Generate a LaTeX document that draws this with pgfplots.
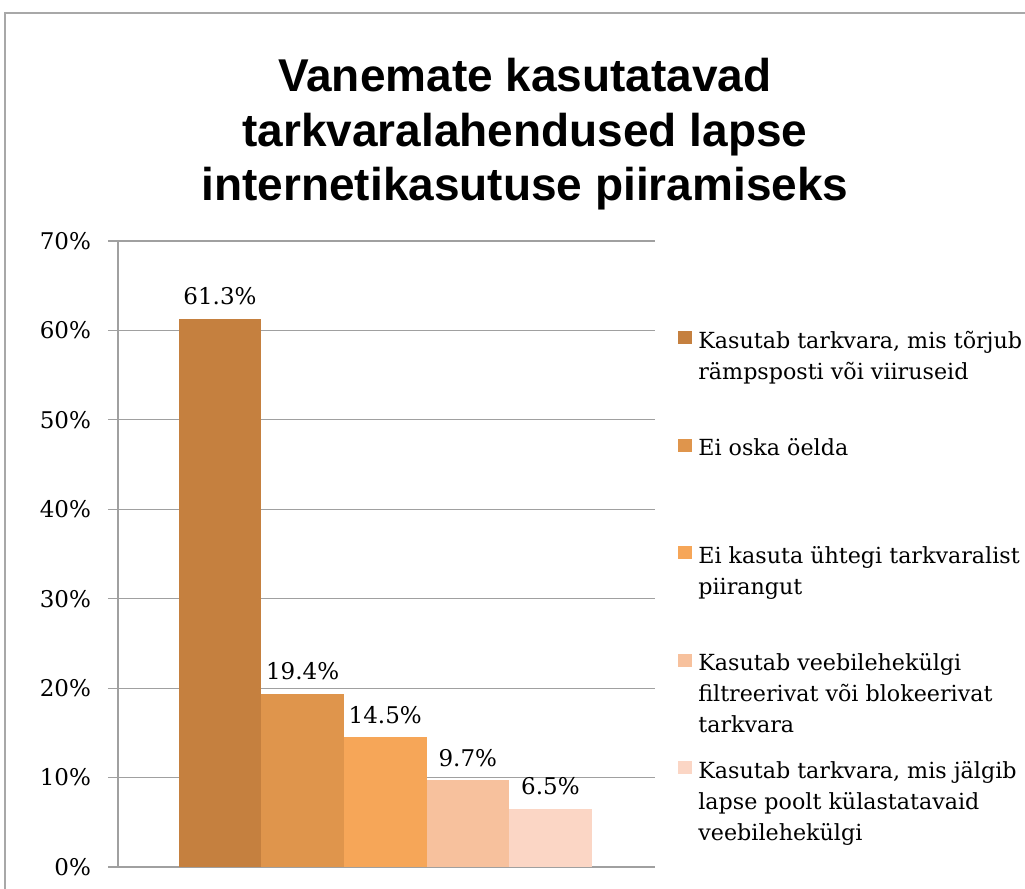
\documentclass[border=0pt]{standalone}
\usepackage{fontspec}
\setmainfont{DejaVu Serif}
\newfontfamily\titlefont{Liberation Sans}
\usepackage{pgfplots}
\pgfplotsset{compat=1.18}
\definecolor{cA}{HTML}{C5803F}
\definecolor{cB}{HTML}{DF954C}
\definecolor{cC}{HTML}{F6A658}
\definecolor{cD}{HTML}{F7C19D}
\definecolor{cE}{HTML}{FBD6C5}
\definecolor{gridgray}{HTML}{A0A0A0}
\definecolor{framegray}{HTML}{A8A8A8}
\newcommand{\lent}[1]{\parbox[t][53.75pt][t]{170pt}{\strut #1}}
\begin{document}
\begin{tikzpicture}[x=1pt,y=1pt]
\useasboundingbox (0pt,0pt) rectangle (512.5pt,444.5pt);
\draw[color=framegray, line width=1pt] (2.5pt,-5pt) -- (2.5pt,438pt) -- (520pt,438pt);
\node[anchor=base, font=\titlefont\bfseries\fontsize{23}{27}\selectfont] at (262.5pt,398.5pt) {Vanemate kasutatavad};
\node[anchor=base, font=\titlefont\bfseries\fontsize{23}{27}\selectfont] at (262.5pt,371pt) {tarkvaralahendused lapse};
\node[anchor=base, font=\titlefont\bfseries\fontsize{23}{27}\selectfont] at (262.5pt,344pt) {internetikasutuse piiramiseks};
\begin{axis}[
  at={(59pt,11pt)}, anchor=south west, scale only axis,
  width=268.5pt, height=313pt,
  xmin=-0.235, xmax=6.266, ymin=0, ymax=70,
  ytick={0,10,...,70},
  yticklabel={\pgfmathprintnumber{\tick}\%},
  /pgf/number format/assume math mode=true,
  xtick=\empty,
  axis x line*=bottom, axis y line*=left,
  ymajorgrids,
  grid style={gridgray, line width=0.6pt},
  axis line style={gridgray, line width=0.6pt},
  tick style={gridgray, line width=0.6pt},
  major tick length=5pt, tick align=outside,
  ticklabel style={font=\fontsize{11.5}{14}\selectfont},
  yticklabel style={xshift=-5pt},
  ybar, bar width=1, bar shift=0pt,
  nodes near coords={\pgfmathprintnumber[fixed,precision=1,fixed zerofill]{\pgfplotspointmeta}\%},
  every node near coord/.append style={anchor=base, yshift=7pt, font=\fontsize{11.5}{14}\selectfont, text=black},
  legend style={at={(1.0428,0.864)}, anchor=north west, draw=none, fill=none, inner sep=0pt,
    row sep=0pt, column sep=3pt, font=\fontsize{11.1}{15.5}\selectfont,
    nodes={inner sep=0pt, text depth=}, cells={anchor=base west}},
  legend image code/.code={\path[#1, draw=none] (0pt,2pt) rectangle (7pt,8.5pt);},
]
\addplot[fill=cA, draw=none] coordinates {(1,61.3)};
\addplot[fill=cB, draw=none] coordinates {(2,19.4)};
\addplot[fill=cC, draw=none] coordinates {(3,14.5)};
\addplot[fill=cD, draw=none] coordinates {(4,9.7)};
\addplot[fill=cE, draw=none] coordinates {(5,6.5)};
\legend{\lent{Kasutab tarkvara, mis tõrjub\\rämpsposti või viiruseid},
        \lent{Ei oska öelda},
        \lent{Ei kasuta ühtegi tarkvaralist\\piirangut},
        \lent{Kasutab veebilehekülgi\\filtreerivat või blokeerivat\\tarkvara},
        \lent{Kasutab tarkvara, mis jälgib\\lapse poolt külastatavaid\\veebilehekülgi}}
\end{axis}
\end{tikzpicture}
\end{document}
